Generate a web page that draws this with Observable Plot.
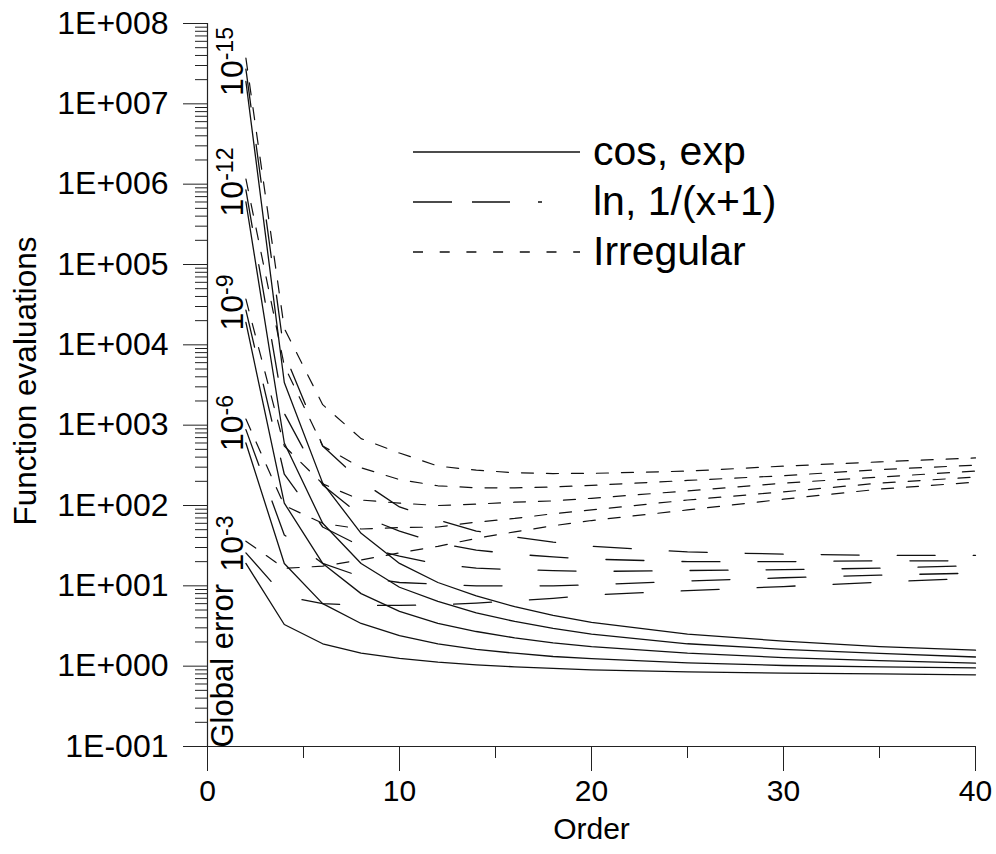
<!DOCTYPE html>
<html>
<head>
<meta charset="utf-8">
<script src="https://cdn.jsdelivr.net/npm/d3@7"></script>
<script src="https://cdn.jsdelivr.net/npm/@observablehq/plot@0.6"></script>
<style>
  body { margin: 0; background: #fff; }
  #chart { position: relative; width: 996px; height: 854px; }
</style>
</head>
<body>
<div id="chart"></div>
<script>
// ---------- data ----------
const orders = [2, 4, 6, 8, 10, 12, 14, 16, 18, 20, 25, 30, 35, 40];
const tolExponents = ["-3", "-6", "-9", "-12", "-15"];
const seriesNames = ["cos, exp", "ln, 1/(x+1)", "Irregular"];

// cos, exp (solid)
const cosExp3  = [19, 3.3, 1.9, 1.45, 1.25, 1.12, 1.04, 0.98, 0.94, 0.9, 0.85, 0.82, 0.8, 0.78];
const cosExp6  = [600, 19, 6, 3.4, 2.4, 1.9, 1.62, 1.45, 1.32, 1.24, 1.1, 1.02, 0.98, 0.95];
const cosExp9  = [19000, 107, 19, 8, 4.8, 3.4, 2.7, 2.25, 1.95, 1.75, 1.45, 1.28, 1.17, 1.09];
const cosExp12 = [600000, 600, 60, 19, 9.6, 6.4, 4.6, 3.6, 2.95, 2.5, 1.9, 1.62, 1.44, 1.3];
const cosExp15 = [19000000, 3400, 190, 45, 19, 11, 7.5, 5.5, 4.3, 3.5, 2.5, 2.05, 1.75, 1.58];

// ln, 1/(x+1) (long dash)
const lnInv3  = [25.7, 7.4, 6.0, 5.7, 5.7, 5.8, 6.1, 6.5, 7.0, 7.7, 8.7, 9.8, 11.1, 12.5];
const lnInv6  = [880, 43, 19, 13, 11, 10.5, 10, 10, 10, 10.3, 11.5, 12.6, 13.6, 14.4];
const lnInv9  = [27000, 245, 54, 31, 23.5, 18.6, 16.6, 15.9, 15.5, 15.1, 15.5, 15.9, 16.6, 17.8];
const lnInv12 = [850000, 1400, 180, 74, 48, 34, 27.9, 24.8, 22.9, 21.5, 20, 20, 20.5, 20.5];
const lnInv15 = [27000000, 7800, 550, 200, 96, 66, 48, 40.6, 35, 31, 26.4, 24.8, 24, 24];

// Irregular (short dash)
const irr3  = [36, 16.5, 17.6, 21, 25.7, 31, 39, 47, 56, 65, 88, 120, 160, 195];
const irr6  = [1190, 100, 60, 51, 53, 54, 62, 69, 79, 88, 117, 148, 190, 226];
const irr9  = [37000, 550, 186, 117, 107, 100, 104, 110, 114, 123, 152, 190, 226, 268];
const irr12 = [1160000, 5500, 550, 295, 210, 176, 166, 166, 170, 178, 205, 235, 280, 318];
const irr15 = [37000000, 16000, 1800, 680, 450, 310, 275, 256, 250, 251, 268, 309, 349, 391];

// axis ticks
const yTicks = [0.1, 1, 10, 100, 1000, 10000, 100000, 1000000, 10000000, 100000000];
const yTickLabels = ["1E-001", "1E+000", "1E+001", "1E+002", "1E+003", "1E+004", "1E+005", "1E+006", "1E+007", "1E+008"];
const xTicks = [0, 10, 20, 30, 40];
const xMinorTicks = [5, 15, 25, 35];

// ---------- build table ----------
const groups = [
  {kind: seriesNames[0], lines: [cosExp3, cosExp6, cosExp9, cosExp12, cosExp15]},
  {kind: seriesNames[1], lines: [lnInv3, lnInv6, lnInv9, lnInv12, lnInv15]},
  {kind: seriesNames[2], lines: [irr3, irr6, irr9, irr12, irr15]}
];
const rows = [];
groups.forEach(g => g.lines.forEach((vals, ti) => vals.forEach((v, i) => {
  rows.push({kind: g.kind, tol: tolExponents[ti], order: orders[i], value: v});
})));
const byKind = k => rows.filter(r => r.kind === k);

const MARK = "10\u200B";
const tolLabelRows = tolExponents.map((e, i) => ({exp: e, y: groups[0].lines[i][0]}));

const yMinor = [];
for (let k = -1; k <= 7; k++) for (let m = 2; m <= 9; m++) yMinor.push(m * Math.pow(10, k));

const FONT = "'Liberation Sans', Arial, Helvetica, sans-serif";
const INK = "#222";

const chart = Plot.plot({
  width: 996,
  height: 854,
  marginLeft: 207,
  marginRight: 21,
  marginTop: 23,
  marginBottom: 108,
  style: {fontFamily: FONT, background: "white", color: "black", overflow: "visible"},
  x: {domain: [0, 40], label: null},
  y: {type: "log", domain: [0.1, 1e8], label: null},
  marks: [
    Plot.ruleX([0], {stroke: INK, strokeWidth: 1.2}),
    Plot.ruleY([0.1], {stroke: INK, strokeWidth: 1.2}),
    Plot.axisY({ticks: yMinor, tickSize: 12, tickFormat: () => "", stroke: INK, label: null}),
    Plot.axisY({ticks: yTicks, tickSize: 24, tickPadding: 15, fontSize: 32, stroke: INK,
      tickFormat: d => yTickLabels[yTicks.indexOf(d)], label: null}),
    Plot.axisX({ticks: xMinorTicks, tickSize: 12, tickFormat: () => "", stroke: INK, label: null}),
    Plot.axisX({ticks: xTicks, tickSize: 25, tickPadding: 8, fontSize: 30, stroke: INK, label: null}),
    Plot.line(byKind(seriesNames[0]), {x: "order", y: "value", z: "tol", stroke: "#111", strokeWidth: 1.3}),
    Plot.line(byKind(seriesNames[1]), {x: "order", y: "value", z: "tol", stroke: "#111", strokeWidth: 1.3, strokeDasharray: "38,38"}),
    Plot.line(byKind(seriesNames[2]), {x: "order", y: "value", z: "tol", stroke: "#111", strokeWidth: 1.2, strokeDasharray: "12,13"}),
    Plot.text(tolLabelRows, {y: "y", text: () => MARK, frameAnchor: "left", dx: 25, dy: -20, rotate: -90,
      textAnchor: "middle", fontSize: 32, fill: "black"}),
    Plot.text(["Global error"], {frameAnchor: "bottom-left", dx: 25, dy: 1, rotate: -90, textAnchor: "start",
      fontSize: 31, fill: "black"}),
    Plot.text(["Function evaluations"], {frameAnchor: "left", dx: -182, dy: -4, rotate: -90, textAnchor: "middle",
      fontSize: 31.5, fill: "black"}),
    Plot.text(["Order"], {frameAnchor: "bottom", dy: 92, textAnchor: "middle", fontSize: 30, fill: "black"})
  ]
});

document.getElementById("chart").append(chart);

// superscripts on the tolerance labels
const svg = d3.select(chart);
let li = 0;
svg.selectAll("text").filter(function() { return this.textContent === MARK; }).each(function() {
  const t = d3.select(this);
  t.text("10");
  t.append("tspan").attr("dy", "-0.42em").attr("font-size", "0.72em").text(tolLabelRows[li++].exp);
});

// legend (inside the plot area)
const legend = svg.append("g").attr("font-family", FONT).attr("font-size", 41).attr("text-anchor", "start");
const legendDash = [null, "39,20,38,28,4,200", "10,16.7"];
seriesNames.forEach((name, i) => {
  const yy = 152 + i * 50;
  const ln = legend.append("line").attr("x1", 413).attr("x2", 580).attr("y1", yy).attr("y2", yy)
    .attr("stroke", "#111").attr("stroke-width", 1.3);
  if (legendDash[i]) ln.attr("stroke-dasharray", legendDash[i]);
  legend.append("text").attr("x", 593).attr("y", yy + 13).attr("fill", "black")
    .attr("text-anchor", "start").text(name);
});
</script>
</body>
</html>
